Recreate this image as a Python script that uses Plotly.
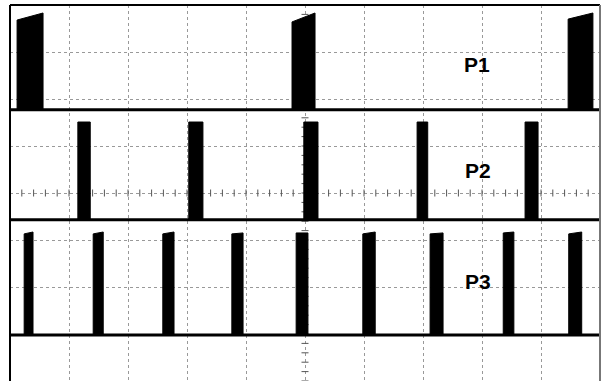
import numpy as np
import plotly.graph_objects as go

# Scope screen: 10 horizontal divisions x 8 vertical divisions
channels = ["P1", "P2", "P3"]

p1_start = [0.12, 4.78, 9.46]
p1_end = [0.56, 5.17, 9.88]
p1_top_left = [7.68, 7.64, 7.70]
p1_top_right = [7.83, 7.83, 7.83]
p1_base = 5.77

p2_start = [1.15, 3.03, 4.98, 6.90, 8.73]
p2_end = [1.36, 3.27, 5.22, 7.08, 8.95]
p2_top_left = [5.51, 5.51, 5.51, 5.51, 5.51]
p2_top_right = [5.51, 5.51, 5.51, 5.51, 5.51]
p2_base = 3.43

p3_start = [0.24, 1.41, 2.59, 3.76, 4.85, 5.98, 7.12, 8.36, 9.47]
p3_end = [0.39, 1.58, 2.78, 3.95, 5.05, 6.19, 7.34, 8.54, 9.69]
p3_top_left = [3.13, 3.13, 3.13, 3.13, 3.15, 3.13, 3.13, 3.15, 3.13]
p3_top_right = [3.17, 3.17, 3.17, 3.15, 3.15, 3.17, 3.15, 3.17, 3.17]
p3_base = 0.98

label_x = [7.92, 7.93, 7.93]
label_y = [6.74, 4.47, 2.11]

fig = go.Figure()

def pulse_poly(starts, ends, tl, tr, base):
    xs, ys = [], []
    for s, e, a, b in zip(starts, ends, tl, tr):
        xs += [s, s, e, e, s, None]
        ys += [base, a, b, base, base, None]
    return xs, ys

chan = [
    (p1_start, p1_end, p1_top_left, p1_top_right, p1_base),
    (p2_start, p2_end, p2_top_left, p2_top_right, p2_base),
    (p3_start, p3_end, p3_top_left, p3_top_right, p3_base),
]

# center graticule minor ticks
hx = np.arange(0, 10.001, 0.2)
fig.add_trace(go.Scatter(x=hx, y=[4] * len(hx), mode="markers",
                         marker=dict(symbol="line-ns", size=5, line=dict(width=1, color="#555")),
                         hoverinfo="skip", showlegend=False))
vy = np.arange(0, 8.001, 0.2)
fig.add_trace(go.Scatter(x=[5] * len(vy), y=vy, mode="markers",
                         marker=dict(symbol="line-ew", size=5, line=dict(width=1, color="#555")),
                         hoverinfo="skip", showlegend=False))

for (s, e, tl, tr, base) in chan:
    fig.add_trace(go.Scatter(x=[0, 10], y=[base, base], mode="lines",
                             line=dict(color="black", width=3), hoverinfo="skip",
                             showlegend=False))
    xs, ys = pulse_poly(s, e, tl, tr, base)
    fig.add_trace(go.Scatter(x=xs, y=ys, mode="lines", fill="toself",
                             fillcolor="black", line=dict(color="black", width=1),
                             hoverinfo="skip", showlegend=False))
    # ground / trigger marker at right edge
    fig.add_trace(go.Scatter(x=[10.0, 10.12], y=[base, base], mode="lines",
                             line=dict(color="#333", width=1), cliponaxis=False,
                             hoverinfo="skip", showlegend=False))
    fig.add_trace(go.Scatter(x=[10.14], y=[base - 0.1], mode="markers", cliponaxis=False,
                             marker=dict(symbol="triangle-down", size=6, color="#333"),
                             hoverinfo="skip", showlegend=False))

for name, lx, ly in zip(channels, label_x, label_y):
    fig.add_annotation(x=lx, y=ly, text="<b>" + name + "</b>", showarrow=False,
                       font=dict(family="Liberation Sans, Arial", size=21, color="black"))

# borders
fig.add_shape(type="line", xref="paper", yref="paper", x0=0, x1=1, y0=1, y1=1,
              line=dict(color="black", width=2))
fig.add_shape(type="line", xref="paper", yref="paper", x0=0, x1=0, y0=0, y1=1,
              line=dict(color="black", width=2))
fig.add_shape(type="line", xref="paper", yref="paper", x0=1, x1=1, y0=0, y1=1,
              line=dict(color="#777", width=2))

fig.update_layout(
    width=612, height=381,
    margin=dict(l=10, r=12, t=5, b=0, pad=0),
    paper_bgcolor="white", plot_bgcolor="white",
    xaxis=dict(range=[0, 10], dtick=1, tick0=0, showgrid=True, gridcolor="#999",
               griddash="dot", gridwidth=1, zeroline=False, showticklabels=False,
               ticks="", showline=False, fixedrange=True),
    yaxis=dict(range=[0, 8], dtick=1, tick0=0, showgrid=True, gridcolor="#999",
               griddash="dot", gridwidth=1, zeroline=False, showticklabels=False,
               ticks="", showline=False, fixedrange=True),
)

fig.write_html("out.html", config={"displayModeBar": False},
               post_script="document.body.style.margin='0px';document.body.style.overflow='hidden';")
